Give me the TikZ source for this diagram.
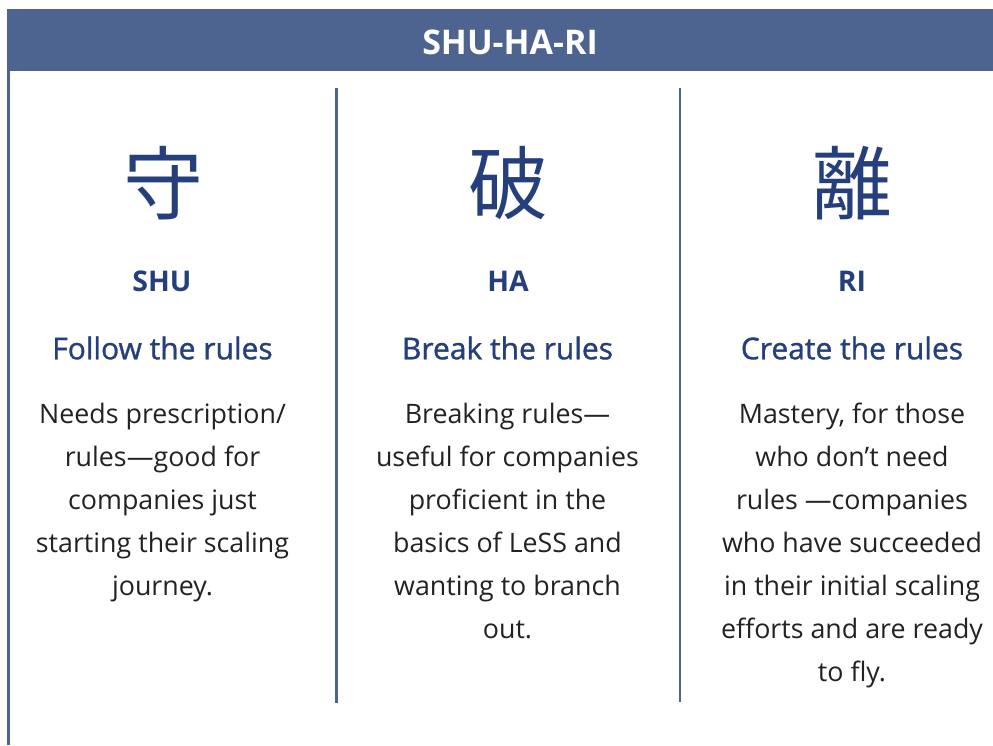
\documentclass[tikz,border=0pt]{standalone}
\usepackage{fontspec}
\setmainfont{Open Sans}
\newfontfamily\cjk{Noto Sans CJK JP}
\newfontfamily\headfont[FakeBold=1.1]{Open Sans}
\definecolor{barblue}{HTML}{4E6490}
\definecolor{inkblue}{HTML}{243F7B}
\definecolor{bodygray}{HTML}{222222}
\tikzset{
  kanji/.style={text=inkblue, font=\cjk\fontsize{80}{80}\selectfont, inner sep=0pt},
  romaji/.style={text=inkblue, font=\bfseries\fontsize{28.5}{28.5}\selectfont, inner sep=0pt},
  motto/.style={text=inkblue, font=\headfont\fontsize{30}{30}\selectfont, inner sep=0pt},
  bodytext/.style={text=bodygray, font=\fontsize{26.8}{43}\selectfont, align=center, inner sep=0pt, anchor=north},
  rule/.style={draw=barblue, line width=2.4pt},
}
\begin{document}
\begin{tikzpicture}[x=1pt, y=-1pt]
  \useasboundingbox (0,0) rectangle (993,745);
  % title bar
  \fill[barblue] (7,9) rectangle (993,71);
  \node[text=white, font=\bfseries\fontsize{34}{34}\selectfont, inner sep=0pt] (title) at (510,42) {SHU-HA-RI};
  % frame and column dividers
  \coordinate (frameTop) at (8.5,71);
  \coordinate (frameBot) at (8.5,745);
  \draw[rule, line width=3pt] (frameTop) -- (frameBot);
  \coordinate (d1t) at (336.5,88);
  \coordinate (d1b) at (336.5,703);
  \coordinate (d2t) at (679.7,88);
  \coordinate (d2b) at (679.7,702);
  \draw[rule] (d1t) -- (d1b);
  \draw[rule] (d2t) -- (d2b);
  % SHU column
  \node[kanji] (k1) at (163,183) {守};
  \node[romaji] (r1) at (162,281) {SHU};
  \node[motto] (m1) at (162.5,348) {Follow the rules};
  \node[bodytext] (b1) at (162.5,402.5) {Needs prescription/\\rules—good for\\companies just\\starting their scaling\\journey.};
  % HA column
  \node[kanji] (k2) at (508,183) {破};
  \node[romaji] (r2) at (508,281) {HA};
  \node[motto] (m2) at (507.5,348) {Break the rules};
  \node[bodytext] (b2) at (507.5,402.5) {Breaking rules—\\useful for companies\\proficient in the\\basics of LeSS and\\wanting to branch\\out.};
  % RI column
  \node[kanji] (k3) at (852,183) {離};
  \node[romaji] (r3) at (852,281) {RI};
  \node[motto] (m3) at (852,348) {Create the rules};
  \node[bodytext] (b3) at (852,402.5) {Mastery, for those\\who don’t need\\rules —companies\\who have succeeded\\in their initial scaling\\efforts and are ready\\to fly.};
\end{tikzpicture}
\end{document}
